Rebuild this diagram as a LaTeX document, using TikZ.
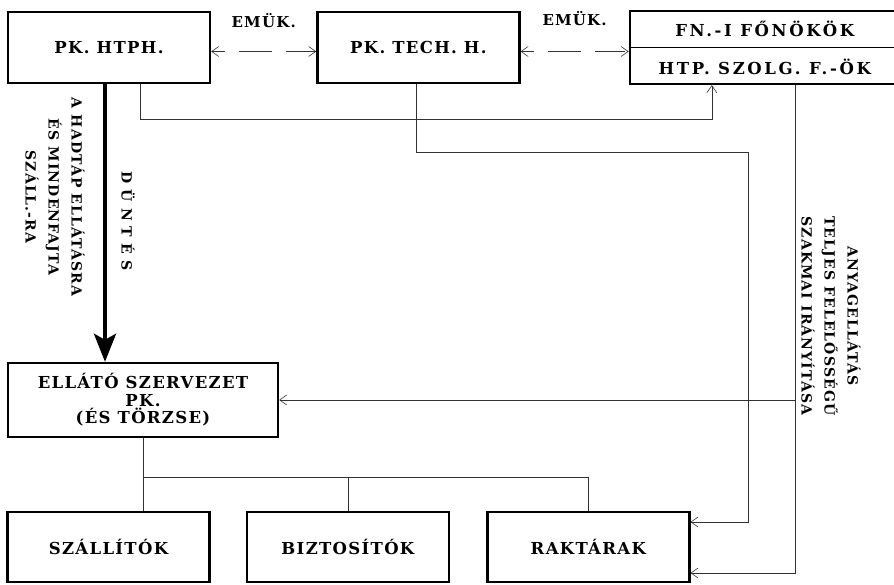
\documentclass[tikz,border=0pt]{standalone}
\usepackage{fontspec}
\setmainfont{DejaVu Serif}
\usetikzlibrary{positioning,arrows.meta}

\newcommand{\boxfont}{\bfseries\fontsize{16.5}{17.5}\selectfont\addfontfeature{LetterSpace=8}}
\newcommand{\headfont}{\bfseries\fontsize{16.5}{17.5}\selectfont\addfontfeature{LetterSpace=16}}
\newcommand{\emukfont}{\bfseries\fontsize{15}{17.5}\selectfont\addfontfeature{LetterSpace=8}}
\newcommand{\sidefont}{\bfseries\fontsize{14}{23}\selectfont\addfontfeature{LetterSpace=8}}

\begin{document}
\begin{tikzpicture}[x=1pt, y=-1pt]
    \tikzstyle{block} = [rectangle, draw, line width=2.4pt, minimum width=202pt, minimum height=71pt, align=center, font=\boxfont]
    \tikzstyle{line} = [draw, line width=0.6pt, black!80]
    \tikzstyle{link} = [line, -{Straight Barb[length=7pt,width=10pt]}]
    \tikzstyle{dashlink} = [line, {Straight Barb[length=7pt,width=10pt]}-{Straight Barb[length=7pt,width=10pt]}, dash pattern=on 13pt off 14pt on 33pt off 14pt on 30pt]
    \tikzstyle{sidetext} = [rotate=-90, align=center, font=\sidefont, inner sep=0pt]

    \useasboundingbox (0,0) rectangle (894,585);

    % top row
    \node [block] (htph) at (109,47.5) {PK. HTPH.};
    \node [block, right=105pt of htph] (tech) {PK. TECH. H.};
    \node [block, right=108pt of tech, minimum width=270pt, minimum height=73pt, font=\headfont] (fonok) {FN.-I FŐNÖKÖK\\[20.5pt]HTP. SZOLG. F.-ÖK};
    \draw [line width=1.6pt] (fonok.west) -- (fonok.east);

    % supply organisation and bottom row
    \node [block, minimum width=270pt, minimum height=74pt] (ellato) at (143,400) {ELLÁTÓ SZERVEZET\\PK.\\(ÉS TÖRZSE)};
    \node [block, minimum height=70pt] (szall) at (108.5,547) {SZÁLLÍTÓK};
    \node [block, minimum height=70pt, right=35pt of szall] (bizt) {BIZTOSÍTÓK};
    \node [block, minimum height=70pt, right=36pt of bizt] (rakt) {RAKTÁRAK};

    % side texts
    \node [sidetext] (hadtap) at (55,197) {A HADTÁP ELLÁTÁSRA\\ÉS MINDENFAJTA\\SZÁLL.-RA};
    \node [sidetext] (duntes) at (128,221) {D Ü N T É S};
    \node [sidetext] (anyag) at (831,316) {ANYAGELLÁTÁS\\TELJES FELELŐSSÉGŰ\\SZAKMAI IRÁNYÍTÁSA};

    % cooperation
    \path [dashlink] ([yshift=-4pt]htph.east) -- node [above=20pt, font=\emukfont, text=black] (emuk1) {EMÜK.} ([yshift=-4pt]tech.west);
    \path [dashlink] ([yshift=-4pt]tech.east) -- node [above=22pt, font=\emukfont, text=black] (emuk2) {EMÜK.} ([yshift=-4pt]fonok.west);

    % decision
    \coordinate (dtop) at ([xshift=-4pt]htph.south);
    \draw [line width=4pt, -{Stealth[length=28pt,width=22pt,inset=6pt]}] (dtop) -- (dtop |- ellato.north);

    % reporting and direction
    \coordinate (hdrop) at ([xshift=31pt]htph.south);
    \path [link] (hdrop) -- ++(0,35) -| ([xshift=-53pt]fonok.south);
    \coordinate (tdrop) at ([xshift=-2pt]tech.south);
    \coordinate (tturn) at (748,152);
    \path [link] (tdrop) |- (tturn) |- ([yshift=25pt]rakt.east);
    \coordinate (fdrop) at ([xshift=30pt]fonok.south);
    \path [link] (fdrop) |- ([yshift=-26pt]rakt.east);
    \path [link] (fdrop |- ellato.east) -- (ellato.east);

    % subordinate units
    \path [line] (ellato.south) -- (ellato.south |- szall.north);
    \coordinate (tj) at ([yshift=-39pt]ellato.south);
    \path [line] (tj) -| (bizt.north);
    \path [line] (tj) -| (rakt.north);
\end{tikzpicture}
\end{document}
